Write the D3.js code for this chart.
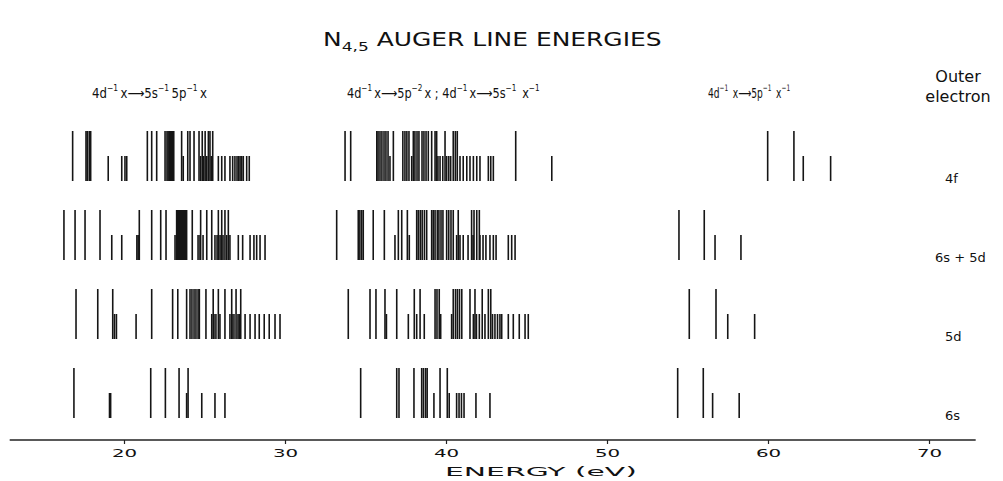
<!DOCTYPE html>
<html>
<head>
<meta charset="utf-8">
<script src="https://cdn.jsdelivr.net/npm/d3@7"></script>
<style>
  body { margin: 0; background: #fff; }
  text { font-family: "DejaVu Sans", sans-serif; fill: #111; }
</style>
</head>
<body>
<svg id="canvas" width="1003" height="481"></svg>
<script>
// outer electron rows, top to bottom
let rows = ["4f", "6s + 5d", "5d", "6s"];
let tickValues = [20, 30, 40, 50, 60, 70];

// line energies (eV), tall = strong lines, short = weak lines
let tall4f = [16.81, 17.64, 17.72, 17.84, 17.93, 21.45, 21.72, 22.03, 22.55, 22.67, 22.74, 22.81, 22.88, 22.95, 23.02, 23.09,
    23.58, 23.96, 24.10, 24.35, 24.66, 24.86, 25.04, 25.24, 25.34, 25.51,
    33.73, 34.08, 35.70, 35.78, 35.90, 36.02, 36.15, 36.27, 36.40, 36.73, 37.32, 37.45, 37.57, 37.70, 37.97, 38.07, 38.20, 38.32,
    38.51, 38.63, 38.76, 38.90, 39.11, 39.32, 39.42, 39.94, 40.45, 40.58, 40.70, 44.33,
    59.98, 61.61];
let short4f = [19.02, 19.86, 20.06, 20.17, 23.68, 24.76, 24.95, 25.14, 25.42, 25.86, 26.07, 26.27, 26.58, 26.75, 26.89,
    27.02, 27.12, 27.21, 27.31, 27.41, 27.62, 27.78,
    36.52, 37.87, 39.50, 39.63, 39.80, 40.04, 40.17, 40.29, 40.87, 41.07, 41.29, 41.49, 41.70, 41.91, 42.11, 42.63, 42.78, 42.94, 46.57,
    62.19, 63.89];

let tall6s5d = [16.27, 16.96, 17.58, 18.51, 20.95, 21.72, 22.28, 22.61, 23.27, 23.34, 23.40, 23.46, 23.52, 23.58, 23.65, 23.71,
    23.77, 23.83, 23.89, 24.24, 24.76, 25.14, 25.45, 25.86, 26.07, 26.27, 26.48,
    33.21, 34.55, 34.65, 34.76, 34.86, 35.48, 36.17, 37.04, 37.25, 37.60, 38.18, 38.28, 38.40, 38.52, 38.66, 38.80, 39.11, 39.21,
    39.32, 39.46, 39.56, 39.69, 39.81, 40.04, 40.17, 40.31, 40.45, 40.76, 41.59, 41.74, 41.91, 42.07,
    54.47, 56.04];
let short6s5d = [19.24, 19.86, 20.80, 20.88, 23.17, 24.60, 24.72, 24.91, 25.65, 25.78, 25.90, 26.02, 26.15, 26.38, 26.58,
    27.10, 27.37, 27.83, 28.07, 28.24, 28.45, 28.76,
    36.83, 37.72, 40.66, 40.87, 41.07, 41.37, 41.68, 42.11, 42.30, 42.48, 42.73, 42.94, 43.11, 43.87, 44.08, 44.29,
    56.71, 58.32];

let tall5d = [17.02, 18.37, 19.30, 21.72, 23.02, 23.34, 23.89, 24.10, 24.22, 24.35, 24.47, 24.60, 24.68, 25.09, 25.54, 25.86,
    26.27, 26.69, 26.96, 27.25,
    33.93, 35.28, 35.65, 36.21, 36.94, 38.03, 38.39, 39.32, 39.44, 39.58, 40.45, 40.59, 40.71, 40.84, 40.98, 41.49, 41.80,
    42.25, 42.63, 42.78,
    55.11, 56.77];
let short5d = [19.41, 19.53, 20.75, 25.45, 25.59, 25.71, 25.96, 26.58, 26.71, 26.83, 27.08, 27.16, 27.52, 27.83, 28.14,
    28.40, 28.71, 29.02, 29.38, 29.69,
    36.30, 37.66, 38.18, 38.65, 39.67, 40.35, 41.70, 41.89, 42.07, 42.42, 42.89, 43.04, 43.20, 43.35, 43.46, 43.87, 44.18,
    44.55, 44.91, 45.11,
    57.50, 59.17];

let tall6s = [16.89, 21.66, 22.57, 23.42, 23.98,
    34.70, 36.94, 37.08, 38.01, 38.49, 38.60, 38.73, 38.83, 39.63, 40.08,
    54.39, 55.98];
let short6s = [19.10, 19.17, 23.89, 24.83, 25.65, 26.27,
    39.25, 40.20, 40.66, 40.81, 40.96, 41.12, 41.86, 42.73,
    56.56, 58.21];

let rowTall = [tall4f, tall6s5d, tall5d, tall6s];
let rowShort = [short4f, short6s5d, short5d, short6s];

let canvas = d3.select("#canvas");

let xScale = d3.scaleLinear().domain([20, 70]).range([124, 929]);
let yScale = d3.scalePoint().domain(rows).range([181, 418]);
let hScale = d3.scaleLinear().domain([0, 1]).range([0, 50]);
let axisY = 440;

// squeeze/stretch a text element so it spans x0..x1
let fitText = (sel, x0, x1) => {
    let box = sel.node().getBBox();
    let k = (x1 - x0) / box.width;
    sel.attr("transform", "translate(" + x0 + ",0) scale(" + k + ",1) translate(" + (-box.x) + ",0)");
};

// build list of line marks
let lineData = [];
rows.forEach((r, i) => {
    rowTall[i].forEach(e => lineData.push({ row: r, energy: e, strength: 1 }));
    rowShort[i].forEach(e => lineData.push({ row: r, energy: e, strength: 0.5 }));
});

canvas.append("g")
    .selectAll("line")
    .data(lineData)
    .enter()
    .append("line")
    .attr("x1", d => xScale(d.energy))
    .attr("x2", d => xScale(d.energy))
    .attr("y1", d => yScale(d.row))
    .attr("y2", d => yScale(d.row) - hScale(d.strength))
    .attr("stroke", "#151515")
    .attr("stroke-width", 1.6);

// axis line runs a bit past the ticks on both sides
canvas.append("line")
    .attr("x1", xScale(12.9))
    .attr("x2", xScale(72.9))
    .attr("y1", axisY).attr("y2", axisY)
    .attr("stroke", "#222").attr("stroke-width", 1.5);

let axis = d3.axisBottom(xScale).tickValues(tickValues).tickSize(4).tickSizeOuter(0);
let axisG = canvas.append("g")
    .attr("transform", "translate(0," + axisY + ")")
    .call(axis);
axisG.select(".domain").remove();
axisG.selectAll(".tick line").attr("stroke", "#222").attr("stroke-width", 1.2);
axisG.selectAll(".tick text")
    .attr("y", 17)
    .attr("dy", 0)
    .style("font-family", "DejaVu Sans")
    .style("font-size", "11px")
    .attr("fill", "#111")
    .attr("transform", "scale(1.8,1)");

let energyLabel = canvas.append("text")
    .attr("y", 476)
    .style("font-size", "13px")
    .text("ENERGY  (eV)");
fitText(energyLabel, 445, 637);

// title
let title = canvas.append("text").attr("y", 46).style("font-size", "19px");
title.append("tspan").text("N");
title.append("tspan").attr("dy", 5).style("font-size", "13px").text("4,5");
title.append("tspan").attr("dy", -5).text(" AUGER  LINE  ENERGIES");
fitText(title, 323, 662);

// group headers
let addHeader = (parts, x0, x1) => {
    let t = canvas.append("text").attr("y", 98).style("font-size", "14px");
    parts.forEach(p => {
        if (p.sup) {
            t.append("tspan").attr("dy", -7).style("font-size", "9px").text(p.sup);
            t.append("tspan").attr("dy", 7).text("\u2009");
        } else {
            t.append("tspan").text(p.txt);
        }
    });
    fitText(t, x0, x1);
};
addHeader([{ txt: "4d" }, { sup: "\u22121" }, { txt: "x\u27F65s" }, { sup: "\u22121" }, { txt: "5p" }, { sup: "\u22121" }, { txt: "x" }], 92, 207);
addHeader([{ txt: "4d" }, { sup: "\u22121" }, { txt: "x\u27F65p" }, { sup: "\u22122" }, { txt: "x ; 4d" }, { sup: "\u22121" },
    { txt: "x\u27F65s" }, { sup: "\u22121" }, { txt: " x" }, { sup: "\u22121" }], 347, 542);
addHeader([{ txt: "4d" }, { sup: "\u22121" }, { txt: " x\u27F65p" }, { sup: "\u22121" }, { txt: " x" }, { sup: "\u22121" }], 708, 792);

// right side labels
canvas.append("text").attr("x", 958).attr("y", 82).attr("text-anchor", "middle")
    .style("font-size", "16px").text("Outer");
canvas.append("text").attr("x", 958).attr("y", 102).attr("text-anchor", "middle")
    .style("font-size", "16px").text("electron");

let labelX = [945, 935, 945, 945];
canvas.append("g")
    .selectAll("text")
    .data(rows)
    .enter()
    .append("text")
    .attr("x", (d, i) => labelX[i])
    .attr("y", d => yScale(d) + 2)
    .style("font-size", "13px")
    .text(d => d);
</script>
</body>
</html>
